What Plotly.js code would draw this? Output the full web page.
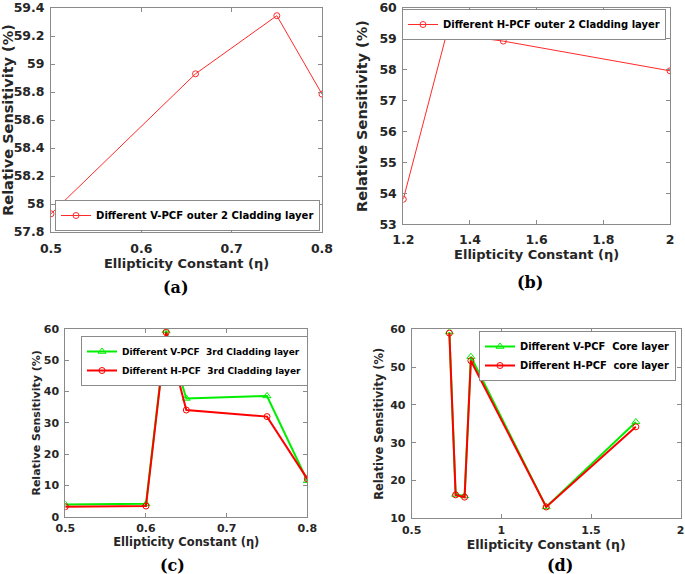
<!DOCTYPE html>
<html>
<head>
<meta charset="utf-8">
<script src="https://cdn.plot.ly/plotly-3.0.1.min.js"></script>
<style>html,body{margin:0;padding:0;background:#fff;}#chart{width:685px;height:574px;}</style>
</head>
<body>
<div id="chart"></div>
<script>
// Panel (a)
const aX = [0.5, 0.66, 0.75, 0.8];
const aY = [57.93, 58.93, 59.345, 58.785];
const aName = "Different V-PCF outer 2 Cladding layer";
// Panel (b)
const bX = [1.2, 1.33, 1.5, 2];
const bY = [53.81, 59.16, 58.92, 57.96];
const bName = "Different H-PCF outer 2 Cladding layer";
// Panel (c)
const cX = [0.5, 0.6, 0.625, 0.65, 0.75, 0.8];
const cV = [3.9, 4.1, 59.5, 37.8, 38.6, 11.5];
const cH = [3.2, 3.4, 58.9, 34.1, 32.0, 12.1];
const cNameV = "Different V-PCF\u00a0 3rd Cladding layer";
const cNameH = "Different H-PCF\u00a0 3rd Cladding layer";
// Panel (d)
const dX = [0.71, 0.745, 0.795, 0.83, 1.25, 1.75];
const dV = [59.3, 16.3, 15.9, 52.75, 13.0, 35.5];
const dH = [59.0, 16.2, 15.6, 51.7, 13.0, 34.2];
const dNameV = "Different V-PCF\u00a0 Core layer";
const dNameH = "Different H-PCF\u00a0 core layer";
const panelLabels = ["(a)", "(b)", "(c)", "(d)"];
const xTitle = "Ellipticity Constant (η)";
const yTitle = "Relative Sensitivity (%)";

const W = 685, H = 574;
const px = v => v / W;
const py = v => 1 - v / H;

const RED = "#ff0000", LRED = "#ff2a2a", GREEN = "#00ee00";
const FONT = "DejaVu Sans";
const TXT = "#262626";
const FRAME = "#8a8a8a";

const traces = [
  {x: aX, y: aY, name: aName, xaxis: "x", yaxis: "y", mode: "lines+markers", legend: "legend",
   line: {color: LRED, width: 1}, marker: {symbol: "circle-open", size: 6, color: LRED, line: {width: 1}}},
  {x: bX, y: bY, name: bName, xaxis: "x2", yaxis: "y2", mode: "lines+markers", legend: "legend2",
   line: {color: LRED, width: 1}, marker: {symbol: "circle-open", size: 6, color: LRED, line: {width: 1}}},
  {x: cX, y: cV, name: cNameV, xaxis: "x3", yaxis: "y3", mode: "lines+markers", legend: "legend3",
   line: {color: GREEN, width: 2}, marker: {symbol: "triangle-up-open", size: 7, color: GREEN, line: {width: 1}}},
  {x: cX, y: cH, name: cNameH, xaxis: "x3", yaxis: "y3", mode: "lines+markers", legend: "legend3",
   line: {color: RED, width: 2}, marker: {symbol: "circle-open", size: 6, color: RED, line: {width: 1}}},
  {x: dX, y: dV, name: dNameV, xaxis: "x4", yaxis: "y4", mode: "lines+markers", legend: "legend4",
   line: {color: GREEN, width: 2}, marker: {symbol: "triangle-up-open", size: 7, color: GREEN, line: {width: 1}}},
  {x: dX, y: dH, name: dNameH, xaxis: "x4", yaxis: "y4", mode: "lines+markers", legend: "legend4",
   line: {color: RED, width: 2}, marker: {symbol: "circle-open", size: 6, color: RED, line: {width: 1}}}
];

function axis(domain, range, dtick, anchor, tickSize, titleSize, standoff, tsoff) {
  return {
    domain: domain, range: range, dtick: dtick, tick0: 0, anchor: anchor,
    showgrid: false, zeroline: false, showline: true, mirror: "ticks",
    linecolor: FRAME, linewidth: 1, ticks: "inside", ticklen: 4, tickcolor: FRAME,
    tickfont: {family: FONT, size: tickSize, color: TXT, weight: "bold"},
    ticklabelstandoff: tsoff,
    title: {text: "", font: {family: FONT, size: titleSize, color: TXT, weight: "bold"}, standoff: standoff}
  };
}

function legendBox(x, y, size) {
  return {x: px(x), y: py(y), xanchor: "left", yanchor: "top", bgcolor: "#fff", bordercolor: FRAME, borderwidth: 1,
          font: {family: FONT, size: size, color: "#000", weight: "bold"}, itemwidth: 30, tracegroupgap: 0};
}

const layout = {
  width: W, height: H,
  margin: {l: 0, r: 0, t: 0, b: 0},
  paper_bgcolor: "#fff", plot_bgcolor: "#fff",
  showlegend: true,
  xaxis:  axis([px(51), px(322)], [0.5, 0.8], 0.1, "y", 12.5, 13, 2, 5),
  yaxis:  axis([py(232), py(8)], [57.8, 59.4], 0.2, "x", 12.5, 14.5, 6, 3),
  xaxis2: axis([px(403.3), px(670)], [1.2, 2], 0.2, "y2", 12.5, 13, 1, 4),
  yaxis2: axis([py(224.3), py(7.7)], [53, 60], 1, "x2", 12.5, 14.5, 8, 3),
  xaxis3: axis([px(65.3), px(307.3)], [0.5, 0.8], 0.1, "y3", 11, 11.5, 0, 1),
  yaxis3: axis([py(516.7), py(329)], [0, 60], 10, "x3", 11, 11, 0, 3),
  xaxis4: axis([px(411.7), px(680.7)], [0.5, 2], 0.5, "y4", 11, 12.5, 0, 1),
  yaxis4: axis([py(518.3), py(329.3)], [10, 60], 10, "x4", 11, 11.5, 4, 3),
  annotations: [],
  legend:  Object.assign(legendBox(55, 231, 10.1), {yanchor: "bottom"}),
  legend2: legendBox(402, 9, 10.0),
  legend3: legendBox(81, 336, 9.0),
  legend4: legendBox(479, 331, 9.9)
};

["xaxis", "xaxis2", "xaxis3", "xaxis4"].forEach(k => layout[k].title.text = xTitle);
["yaxis", "yaxis2", "yaxis3", "yaxis4"].forEach(k => layout[k].title.text = yTitle);

const labelPos = [[176, 287], [530, 282], [172, 565], [560, 565]];
panelLabels.forEach((t, i) => {
  layout.annotations.push({
    text: t, xref: "paper", yref: "paper", x: px(labelPos[i][0]), y: py(labelPos[i][1]),
    xanchor: "center", yanchor: "middle", showarrow: false,
    font: {family: "DejaVu Serif", size: 16, color: "#000", weight: "bold"}
  });
});

Plotly.newPlot("chart", traces, layout, {staticPlot: true, displayModeBar: false});
</script>
</body>
</html>
